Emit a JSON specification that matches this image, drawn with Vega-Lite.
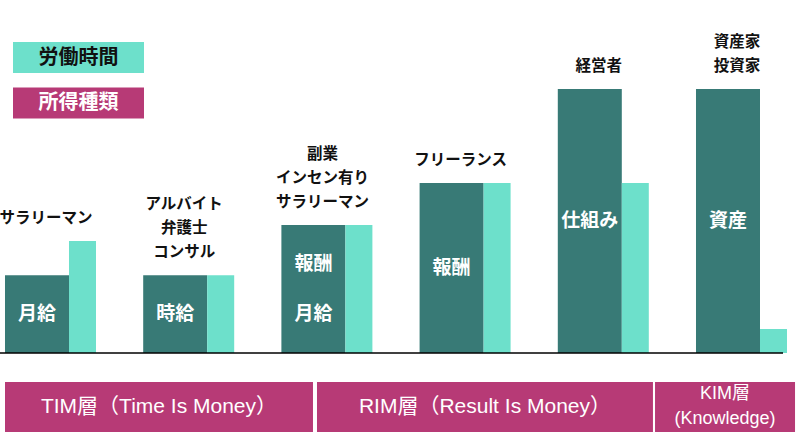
{
  "$schema": "https://vega.github.io/schema/vega-lite/v6.json",
  "width": 800,
  "height": 448,
  "autosize": {"type": "none"},
  "padding": 0,
  "background": "#ffffff",
  "config": {
    "view": {"stroke": null},
    "legend": {
      "orient": "none",
      "title": null,
      "symbolType": "M-1,-0.2366H1V0.2366H-1Z",
      "symbolSize": 17161,
      "symbolStrokeWidth": 0,
      "symbolOpacity": 1,
      "padding": 0,
      "labelOffset": -65.5,
      "labelAlign": "center",
      "labelFont": "Noto Sans CJK JP",
      "labelFontSize": 20,
      "labelFontWeight": "bold"
    }
  },
  "datasets": {
    "groups": [
      {"i": 0, "name": "サラリーマン", "inner": "月給", "income": 2.95, "labor": 4.24},
      {"i": 1, "name": "アルバイト\n弁護士\nコンサル", "inner": "時給", "income": 2.95, "labor": 2.95},
      {"i": 2, "name": "副業\nインセン有り\nサラリーマン", "inner": "報酬\n月給", "income": 4.85, "labor": 4.85},
      {"i": 3, "name": "フリーランス", "inner": "報酬", "income": 6.44, "labor": 6.44},
      {"i": 4, "name": "経営者", "inner": "仕組み", "income": 10, "labor": 6.44},
      {"i": 5, "name": "資産家\n投資家", "inner": "資産", "income": 10, "labor": 0.91}
    ],
    "layers": [
      {"layer": "TIM層（Time Is Money）", "from": -0.2315, "to": 1.997},
      {"layer": "RIM層（Result Is Money）", "from": 2.026, "to": 4.457},
      {"layer": "KIM層\n(Knowledge)", "from": 4.472, "to": 5.485}
    ]
  },
  "resolve": {"scale": {"y": "independent"}},
  "layer": [
    {
      "data": {"name": "groups"},
      "mark": {"type": "bar", "orient": "vertical", "size": 64, "color": "#387A76"},
      "encoding": {
        "x": {"field": "i", "type": "quantitative", "scale": {"domain": [-0.2677, 5.521], "nice": false, "zero": false, "padding": 0}, "axis": null},
        "y": {"field": "income", "type": "quantitative", "scale": {"domain": [-3.598, 13.371], "nice": false, "padding": 0}, "axis": null}
      }
    },
    {
      "data": {"name": "groups"},
      "mark": {"type": "bar", "orient": "vertical", "size": 27, "xOffset": 45.5},
      "encoding": {
        "x": {"field": "i", "type": "quantitative", "scale": {"domain": [-0.2677, 5.521], "nice": false, "zero": false, "padding": 0}, "axis": null},
        "y": {"field": "labor", "type": "quantitative", "scale": {"domain": [-3.598, 13.371], "nice": false, "padding": 0}, "axis": null},
        "fill": {
          "datum": "労働時間",
          "type": "nominal",
          "scale": {"domain": ["労働時間"], "range": ["#6DE0CB"]},
          "legend": {"legendX": 13, "legendY": -8, "labelColor": "#111111"}
        }
      }
    },
    {
      "data": {"name": "layers"},
      "mark": {"type": "rect"},
      "encoding": {
        "x": {"field": "from", "type": "quantitative", "scale": {"domain": [-0.2677, 5.521], "nice": false, "zero": false, "padding": 0}, "axis": null},
        "x2": {"field": "to"},
        "y": {"datum": -1.098, "type": "quantitative", "scale": {"domain": [-3.598, 13.371], "nice": false, "padding": 0}, "axis": null},
        "y2": {"datum": -2.992},
        "color": {
          "datum": "所得種類",
          "type": "nominal",
          "scale": {"domain": ["所得種類"], "range": ["#B73A76"]},
          "legend": {"legendX": 13, "legendY": 37.5, "labelColor": "#ffffff"}
        }
      }
    },
    {
      "data": {"name": "layers"},
      "transform": [
        {"fold": ["from", "to"], "as": ["edge", "pos"]},
        {"aggregate": [{"op": "mean", "field": "pos", "as": "mid"}], "groupby": ["layer"]}
      ],
      "mark": {"type": "text", "color": "#ffffff", "font": "Liberation Sans, Noto Sans CJK JP", "baseline": "middle", "align": "center", "lineBreak": "\n", "lineHeight": 25, "dy": {"expr": "-12.5 * (length(split(datum.layer, '\\n')) - 1)"}},
      "encoding": {
        "x": {"field": "mid", "type": "quantitative", "scale": {"domain": [-0.2677, 5.521], "nice": false, "zero": false, "padding": 0}, "axis": null},
        "y": {"datum": -2.045, "type": "quantitative", "scale": {"domain": [-3.598, 13.371], "nice": false, "padding": 0}, "axis": null},
        "text": {"field": "layer"},
        "size": {"condition": {"test": "indexof(datum.layer, 'KIM') === 0", "value": 18}, "value": 21}
      }
    },
    {
      "data": {"values": [{}]},
      "mark": {"type": "rule", "color": "#000000", "strokeWidth": 1.5},
      "encoding": {
        "x": {"datum": -0.2677, "type": "quantitative", "scale": {"domain": [-0.2677, 5.521], "nice": false, "zero": false, "padding": 0}, "axis": null},
        "x2": {"datum": 5.398},
        "y": {"datum": 0, "type": "quantitative", "scale": {"domain": [-3.598, 13.371], "nice": false, "padding": 0}, "axis": null}
      }
    },
    {
      "data": {"name": "groups"},
      "transform": [
        {"fold": ["income", "labor"], "as": ["series", "value"]},
        {"aggregate": [{"op": "max", "field": "value", "as": "top"}], "groupby": ["i", "name"]}
      ],
      "mark": {"type": "text", "color": "#111111", "font": "Noto Sans CJK JP", "fontWeight": "bold", "fontSize": 15.5, "baseline": "bottom", "align": "center", "lineBreak": "\n", "lineHeight": 24, "dy": {"expr": "-15 - 24 * (length(split(datum.name, '\\n')) - 1)"}, "xOffset": 9},
      "encoding": {
        "x": {"field": "i", "type": "quantitative", "scale": {"domain": [-0.2677, 5.521], "nice": false, "zero": false, "padding": 0}, "axis": null},
        "y": {"field": "top", "type": "quantitative", "scale": {"domain": [-3.598, 13.371], "nice": false, "padding": 0}, "axis": null},
        "text": {"field": "name"}
      }
    },
    {
      "data": {"name": "groups"},
      "mark": {"type": "text", "color": "#ffffff", "font": "Noto Sans CJK JP", "fontWeight": "bold", "fontSize": 19, "baseline": "middle", "align": "center", "lineBreak": "\n", "lineHeight": 50, "dy": {"expr": "-25 * (length(split(datum.inner, '\\n')) - 1)"}},
      "encoding": {
        "x": {"field": "i", "type": "quantitative", "scale": {"domain": [-0.2677, 5.521], "nice": false, "zero": false, "padding": 0}, "axis": null},
        "y": {"field": "income", "type": "quantitative", "scale": {"domain": [-7.196, 26.742], "nice": false, "padding": 0}, "axis": null},
        "text": {"field": "inner"}
      }
    }
  ]
}
